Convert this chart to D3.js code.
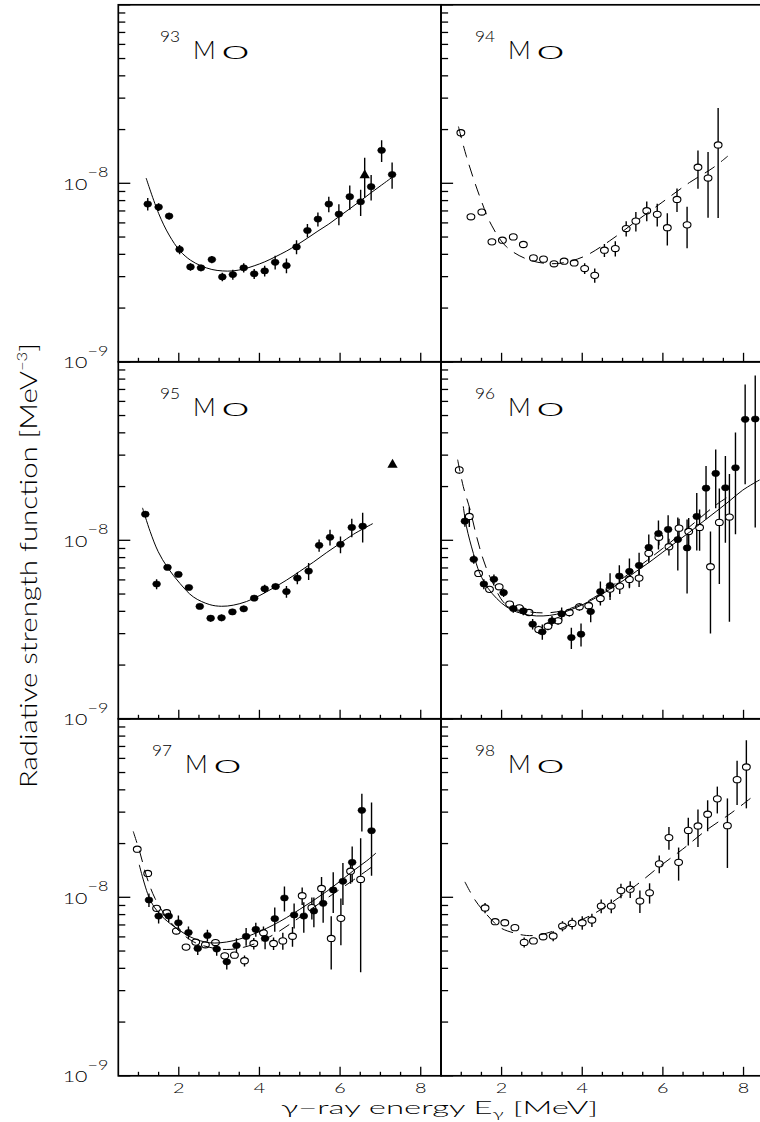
<!DOCTYPE html>
<html><head><meta charset="utf-8">
<script src="https://cdn.jsdelivr.net/npm/d3@7"></script>
<style>
html,body{margin:0;padding:0;background:#fff;}
svg{display:block;}
</style></head><body>
<svg id="chart" width="760" height="1122"></svg>
<script>
// ---- DATA (strength values in units of 1e-9 MeV^-3) ----
const xDomain = [0.5, 8.5];
const yDomain = [1, 100];          // 1e-9 ... 1e-7
const xMajorTicks = [2, 4, 6, 8];
const yLabelValues = [1, 10];      // 10^-9, 10^-8

// 93Mo (filled circles)
const e93 = [1.23,1.50,1.76,2.02,2.29,2.55,2.82,3.08,3.34,3.61,3.87,4.13,4.39,4.67,4.92,5.19,5.45,5.72,5.97,6.24,6.51,6.77,7.03,7.29];
const s93 = [7.65,7.36,6.55,4.26,3.40,3.36,3.74,2.99,3.08,3.36,3.11,3.23,3.61,3.46,4.40,5.44,6.30,7.65,6.72,8.41,7.88,9.57,15.3,11.2];
const d93 = [0.61,0.37,0.28,0.25,0.16,0.14,0.18,0.16,0.20,0.20,0.20,0.22,0.32,0.33,0.40,0.47,0.57,0.77,0.90,1.30,1.32,1.57,2.14,1.88];
const e93t = [6.61], s93t = [11.1], d93t = [2.8];
const c93E = [1.19,1.50,1.76,2.03,2.29,2.55,2.82,3.08,3.34,3.61,3.87,4.13,4.39,4.67,4.92,5.19,5.45,5.72,5.97,6.24,6.51,6.77,7.03,7.29];
const c93S = [10.7,6.78,5.13,4.18,3.71,3.45,3.29,3.23,3.23,3.31,3.45,3.63,3.87,4.17,4.50,4.93,5.40,5.91,6.50,7.20,7.99,8.86,9.78,10.8];

// 94Mo (open circles)
const e94 = [0.99,1.24,1.51,1.76,2.02,2.29,2.54,2.79,3.04,3.30,3.55,3.80,4.06,4.31,4.55,4.82,5.09,5.33,5.60,5.86,6.11,6.35,6.60,6.87,7.12,7.37];
const s94 = [19.2,6.49,6.90,4.70,4.80,5.01,4.54,3.82,3.76,3.54,3.66,3.58,3.33,3.05,4.22,4.31,5.58,6.14,7.02,6.70,5.64,8.12,5.85,12.3,10.7,16.4];
const d94 = [0.96,0.19,0.21,0.14,0.14,0.15,0.14,0.11,0.11,0.11,0.11,0.14,0.23,0.28,0.35,0.42,0.54,0.77,0.89,0.98,1.16,1.22,1.53,2.99,4.28,10.0];
const c94E = [0.93,1.13,1.46,1.75,2.12,2.70,3.36,4.02,4.68,5.34,6.00,6.66,7.24,7.61];
const c94S = [20.8,14.1,8.41,5.83,4.41,3.71,3.55,3.87,4.76,6.14,7.88,10.1,12.2,14.2];

// 95Mo (filled circles)
const e95 = [1.17,1.45,1.72,1.99,2.25,2.52,2.79,3.06,3.33,3.61,3.87,4.13,4.40,4.67,4.94,5.22,5.48,5.75,6.01,6.29,6.56];
const s95 = [14.0,5.69,7.05,6.44,5.44,4.26,3.66,3.68,3.97,4.13,4.74,5.35,5.51,5.16,6.14,6.72,9.37,10.4,9.49,11.8,12.0];
const d95 = [0.42,0.37,0.21,0.19,0.16,0.13,0.16,0.16,0.12,0.17,0.14,0.29,0.22,0.39,0.46,0.73,0.75,1.04,1.02,1.39,2.28];
const e95t = [7.30], s95t = [26.5], d95t = [0.4];
const c95E = [1.10,1.29,1.49,1.72,2.03,2.36,2.77,3.06,3.35,3.68,4.01,4.34,4.67,5.00,5.34,5.67,6.00,6.33,6.81];
const c95S = [15.2,11.2,8.63,7.05,5.73,4.82,4.36,4.27,4.33,4.54,4.91,5.40,5.98,6.70,7.55,8.55,9.61,10.8,12.4];

// 96Mo (filled and open circles)
const e96f = [1.09,1.31,1.56,1.81,2.05,2.29,2.54,2.77,3.01,3.25,3.49,3.73,3.97,4.21,4.45,4.69,4.92,5.17,5.41,5.65,5.89,6.13,6.37,6.60,6.84,7.07,7.31,7.55,7.80,8.04,8.29];
const s96f = [12.8,7.82,5.69,6.05,5.09,4.15,4.02,3.39,3.07,3.54,3.87,2.85,2.98,3.99,5.16,5.58,6.30,6.70,7.23,9.12,10.9,11.5,10.1,9.06,13.6,19.6,23.7,19.7,25.5,47.6,47.8];
const d96f = [0.88,0.42,0.37,0.39,0.27,0.22,0.22,0.23,0.30,0.23,0.33,0.39,0.44,0.51,0.72,0.95,0.95,1.21,1.30,1.64,2.02,2.30,3.33,4.03,4.83,6.47,8.6,10.0,14.7,27,36];
const e96o = [0.95,1.20,1.43,1.70,1.94,2.20,2.44,2.68,2.92,3.15,3.40,3.68,3.93,4.16,4.45,4.69,4.93,5.17,5.41,5.65,5.90,6.15,6.40,6.64,6.91,7.18,7.40,7.65];
const s96o = [24.8,13.6,6.52,5.31,5.49,4.39,4.18,3.94,3.16,3.30,3.54,3.94,4.24,4.30,4.72,5.33,5.54,6.04,6.14,8.45,10.4,9.21,11.7,11.2,11.8,7.11,12.6,13.5];
const d96o = [1.24,1.74,0.26,0.21,0.22,0.18,0.17,0.16,0.16,0.17,0.18,0.20,0.21,0.26,0.41,0.52,0.54,0.65,0.66,0.73,1.01,1.00,1.52,2.13,3.07,4.1,6.9,10.0];
const c96E = [1.05,1.13,1.30,1.46,1.67,1.88,2.12,2.37,2.70,3.03,3.36,3.69,4.02,4.35,4.68,5.01,5.34,5.67,6.00,6.33,6.66,6.99,7.32,7.65,7.98,8.40];
const c96S = [15.5,11.9,8.45,6.52,5.37,4.72,4.24,3.97,3.80,3.77,3.85,4.06,4.37,4.78,5.31,5.93,6.70,7.55,8.59,9.78,11.1,12.7,14.5,16.6,19.1,21.8];
const c96dE = [0.91,1.05,1.22,1.38,1.55,1.75,2.12,2.70,3.36,4.02,4.68,5.34,6.00,6.66,7.32,7.65];
const c96dS = [28.3,20.0,14.8,10.5,7.75,5.98,4.34,3.97,3.97,4.43,5.45,6.96,9.02,11.9,15.8,17.7];

// 97Mo (filled and open circles)
const e97f = [1.26,1.50,1.75,1.99,2.24,2.47,2.71,2.94,3.19,3.43,3.67,3.91,4.14,4.38,4.62,4.86,5.10,5.35,5.58,5.83,6.07,6.30,6.54,6.78];
const s97f = [9.66,7.85,7.85,7.20,6.35,5.17,6.11,5.13,4.35,5.37,6.04,6.61,5.88,7.59,9.91,7.96,7.85,8.38,9.25,11.0,12.3,15.7,30.7,23.6];
const d97f = [0.83,0.71,0.61,0.70,0.52,0.42,0.46,0.42,0.41,0.52,0.69,0.60,0.76,1.18,1.59,1.27,1.53,1.59,2.06,2.83,3.26,3.56,7.3,10.4];
const e97o = [0.97,1.23,1.45,1.70,1.94,2.18,2.42,2.66,2.91,3.14,3.38,3.63,3.86,4.10,4.35,4.58,4.82,5.06,5.30,5.54,5.78,6.02,6.26,6.51];
const s97o = [18.6,13.6,8.67,8.20,6.47,5.26,5.61,5.42,5.58,4.70,4.74,4.41,5.51,6.32,5.51,5.70,6.05,10.2,8.75,11.2,5.88,7.62,14.0,12.6];
const d97o = [0.74,0.54,0.35,0.33,0.26,0.21,0.22,0.22,0.22,0.19,0.19,0.31,0.41,0.54,0.44,0.62,0.76,1.16,1.23,1.79,1.94,2.23,2.1,8.8];
const c97E = [1.02,1.29,1.53,1.78,2.03,2.28,2.53,2.77,3.02,3.35,3.68,4.01,4.34,4.67,5.00,5.33,5.67,6.00,6.33,6.66,6.89];
const c97S = [15.2,9.66,8.05,7.14,6.50,6.01,5.71,5.56,5.56,5.71,6.01,6.44,6.99,7.69,8.56,9.57,10.8,12.3,14.1,16.0,17.7];
const c97dE = [0.87,1.04,1.20,1.41,1.70,2.03,2.36,2.77,3.19,3.60,4.01,4.43,4.84,5.25,5.67,6.00,6.33,6.66,6.89];
const c97dS = [23.4,17.7,13.1,9.87,7.72,6.41,5.64,5.24,5.10,5.24,5.64,6.33,7.29,8.49,9.87,11.1,12.5,14.1,15.4];

// 98Mo (open circles)
const e98 = [1.59,1.84,2.08,2.33,2.56,2.79,3.03,3.28,3.51,3.75,4.00,4.24,4.47,4.72,4.96,5.19,5.43,5.67,5.91,6.15,6.39,6.63,6.87,7.11,7.35,7.60,7.84,8.07];
const s98 = [8.71,7.30,7.20,6.76,5.59,5.70,6.01,6.07,6.90,7.14,7.20,7.46,8.93,8.93,10.9,11.1,9.53,10.6,15.4,21.6,15.7,23.7,25.1,29.2,35.6,25.2,45.6,53.7];
const d98 = [0.57,0.29,0.29,0.20,0.36,0.23,0.18,0.39,0.45,0.54,0.62,0.64,0.80,0.80,1.01,1.20,1.37,1.38,1.76,3.15,3.3,4.2,5.95,5.75,6.1,10.6,12.7,22.2];
const c98dE = [1.09,1.34,1.59,1.96,2.29,2.62,2.95,3.36,3.77,4.27,4.76,5.34,5.92,6.49,7.07,7.69,8.23];
const c98dS = [12.2,9.66,8.20,6.78,6.33,6.11,6.17,6.55,7.14,8.05,9.45,11.7,14.9,18.6,23.7,29.6,36.7];

const panelDefs = [
  {mass:"93", col:0, row:0, labelX:160,
   pts:[{E:e93,S:s93,D:d93,kind:"filled"},{E:e93t,S:s93t,D:d93t,kind:"tri"}],
   curves:[{E:c93E,S:c93S,dash:false}]},
  {mass:"94", col:1, row:0, labelX:475,
   pts:[{E:e94,S:s94,D:d94,kind:"open"}],
   curves:[{E:c94E,S:c94S,dash:true}]},
  {mass:"95", col:0, row:1, labelX:160,
   pts:[{E:e95,S:s95,D:d95,kind:"filled"},{E:e95t,S:s95t,D:d95t,kind:"tri"}],
   curves:[{E:c95E,S:c95S,dash:false}]},
  {mass:"96", col:1, row:1, labelX:475,
   pts:[{E:e96o,S:s96o,D:d96o,kind:"open"},{E:e96f,S:s96f,D:d96f,kind:"filled"}],
   curves:[{E:c96E,S:c96S,dash:false},{E:c96dE,S:c96dS,dash:true}]},
  {mass:"97", col:0, row:2, labelX:152,
   pts:[{E:e97o,S:s97o,D:d97o,kind:"open"},{E:e97f,S:s97f,D:d97f,kind:"filled"}],
   curves:[{E:c97E,S:c97S,dash:false},{E:c97dE,S:c97dS,dash:true}]},
  {mass:"98", col:1, row:2, labelX:475,
   pts:[{E:e98,S:s98,D:d98,kind:"open"}],
   curves:[{E:c98dE,S:c98dS,dash:true}]}
];

// ---- LAYOUT ----
const FONT = 'Lato, "Open Sans", "Liberation Sans", sans-serif';
const FW = 300;
const colX = [118.3, 441.1], rowY = [4.8, 361.8, 718.8];
const PW = 322.6, PH = 357;
const svg = d3.select("#chart");
const defs = svg.append("defs");

panelDefs.forEach((p, i) => {
  const x0 = colX[p.col], y0 = rowY[p.row];
  const x = d3.scaleLinear().domain(xDomain).range([x0, x0 + PW]);
  const y = d3.scaleLog().domain(yDomain).range([y0 + PH, y0]);

  defs.append("clipPath").attr("id", "clip" + i)
    .append("rect").attr("x", x0).attr("y", y0).attr("width", PW).attr("height", PH);
  const g = svg.append("g").attr("clip-path", `url(#clip${i})`);

  // error bars
  p.pts.forEach(s => {
    const data = s.E.map((e, k) => ({e, v: s.S[k], d: s.D[k]}));
    g.append("g").selectAll("line").data(data).join("line")
      .attr("x1", d => x(d.e)).attr("x2", d => x(d.e))
      .attr("y1", d => y(Math.max(d.v - d.d, yDomain[0])))
      .attr("y2", d => y(d.v + d.d))
      .attr("stroke", "#000").attr("stroke-width", 1.4);
  });
  // markers
  p.pts.forEach(s => {
    const data = s.E.map((e, k) => ({e, v: s.S[k]}));
    const mg = g.append("g");
    if (s.kind === "tri") {
      mg.selectAll("path").data(data).join("path")
        .attr("d", d3.symbol(d3.symbolTriangle, 46))
        .attr("transform", d => `translate(${x(d.e)},${y(d.v)})`)
        .attr("fill", "#000");
    } else {
      mg.selectAll("ellipse").data(data).join("ellipse")
        .attr("cx", d => x(d.e)).attr("cy", d => y(d.v))
        .attr("rx", 3.9).attr("ry", 3.1)
        .attr("fill", s.kind === "filled" ? "#000" : "#fff")
        .attr("stroke", "#000").attr("stroke-width", s.kind === "filled" ? 0.6 : 1.1);
    }
  });
  // curves
  const line = d3.line().x(d => x(d[0])).y(d => y(d[1])).curve(d3.curveCatmullRom.alpha(0.5));
  p.curves.forEach(c => {
    g.append("path").attr("d", line(c.E.map((e, k) => [e, c.S[k]])))
      .attr("fill", "none").attr("stroke", "#000").attr("stroke-width", 1)
      .attr("stroke-dasharray", c.dash ? "12,8" : null);
  });

  // frame
  svg.append("rect").attr("x", x0).attr("y", y0).attr("width", PW).attr("height", PH)
    .attr("fill", "none").attr("stroke", "#000").attr("stroke-width", 1.7);

  // y ticks (left side, inward)
  const yt = y.ticks();
  svg.append("g").selectAll("line").data(yt).join("line")
    .attr("x1", x0).attr("x2", d => x0 + (Math.abs(Math.log10(d) % 1) < 1e-9 ? 12 : 7))
    .attr("y1", d => y(d)).attr("y2", d => y(d))
    .attr("stroke", "#000").attr("stroke-width", 1.3);

  // x ticks (bottom, inward)
  const xt = d3.range(1, 8.5, 0.5);
  svg.append("g").selectAll("line").data(xt).join("line")
    .attr("x1", d => x(d)).attr("x2", d => x(d))
    .attr("y1", y0 + PH).attr("y2", d => y0 + PH - (xMajorTicks.includes(d) ? 9 : 4))
    .attr("stroke", "#000").attr("stroke-width", 1.3);

  // y tick labels (left column only)
  if (p.col === 0) {
    yLabelValues.forEach(v => {
      const ty = y(v);
      const t = svg.append("text").attr("x", 62.7).attr("y", ty + 6.5)
        .attr("font-family", FONT).attr("font-weight", FW).attr("font-size", 15.5).attr("fill", "#000")
        .attr("textLength", 45.6).attr("lengthAdjust", "spacingAndGlyphs");
      t.append("tspan").text("10");
      t.append("tspan").attr("font-size", 13).attr("dy", -12.5)
        .text("\u2212" + (9 - Math.round(Math.log10(v))));
    });
  }
  // x tick labels (bottom row only)
  if (p.row === 2) {
    svg.append("g").selectAll("text").data(xMajorTicks).join("text")
      .attr("x", d => x(d)).attr("y", y0 + PH + 16.8)
      .attr("text-anchor", "middle")
      .attr("font-family", FONT).attr("font-weight", FW).attr("font-size", 14).attr("fill", "#000")
      .attr("textLength", 11.5).attr("lengthAdjust", "spacingAndGlyphs")
      .text(d => d);
  }

  // panel label  ^{A}Mo
  const by = y0 + 54.5;
  const lt = svg.append("text").attr("x", p.labelX).attr("y", by)
    .attr("font-family", FONT).attr("font-weight", FW).attr("fill", "#000");
  lt.append("tspan").attr("x", p.labelX).attr("y", by - 17).attr("font-size", 15)
    .attr("textLength", 20).attr("lengthAdjust", "spacingAndGlyphs").text(p.mass);
  lt.append("tspan").attr("x", p.labelX + 33).attr("y", by).attr("font-size", 25).text("M");
  lt.append("tspan").attr("x", p.labelX + 61).attr("y", by).attr("font-size", 26)
    .attr("textLength", 29).attr("lengthAdjust", "spacingAndGlyphs").text("o");
});

// axis titles
const xtt = svg.append("text").attr("x", 281).attr("y", 1114)
  .attr("font-family", FONT).attr("font-weight", FW).attr("font-size", 18.5).attr("fill", "#000")
  .attr("textLength", 317).attr("lengthAdjust", "spacingAndGlyphs");
xtt.append("tspan").text("\u03b3\u2212ray energy E");
xtt.append("tspan").attr("font-size", 12).attr("dy", 4).text("\u03b3");
xtt.append("tspan").attr("dy", -4).text(" [MeV]");

const ytt = svg.append("text").attr("transform", "translate(37,565.5) rotate(-90)")
  .attr("text-anchor", "middle")
  .attr("font-family", FONT).attr("font-weight", FW).attr("font-size", 23).attr("fill", "#000")
  .attr("textLength", 445).attr("lengthAdjust", "spacingAndGlyphs");
ytt.append("tspan").text("Radiative strength function [MeV");
ytt.append("tspan").attr("font-size", 13).attr("dy", -10).text("\u22123");
ytt.append("tspan").attr("dy", 10).text("]");
</script>
</body></html>
